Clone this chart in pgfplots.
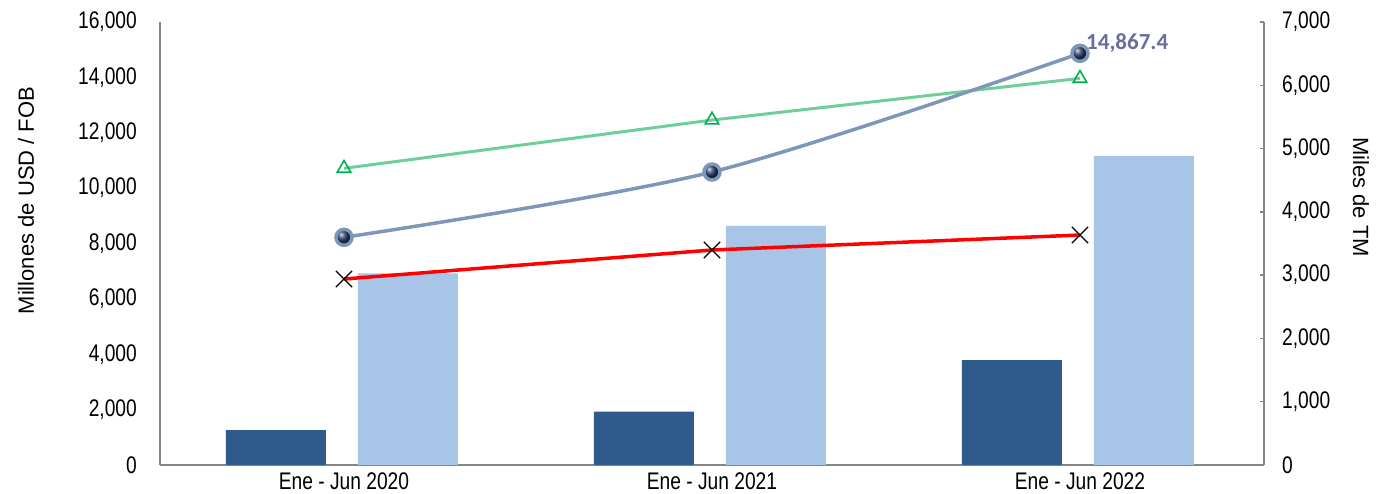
\documentclass[border=0pt]{standalone}
\usepackage{fontspec}
\setmainfont{Liberation Sans}
\newfontfamily\condensed{Liberation Sans}[FakeStretch=0.8]
\newfontfamily\calib{Carlito}
\usepackage{pgfplots}
\pgfplotsset{compat=1.18}
\definecolor{axisgray}{HTML}{868686}
\definecolor{darkbar}{HTML}{2F5A8C}
\definecolor{lightbar}{HTML}{A8C4E6}
\definecolor{blueline}{HTML}{7E97B8}
\definecolor{navyball}{HTML}{1F3864}
\definecolor{greenline}{HTML}{6FCF99}
\definecolor{trigreen}{HTML}{00B050}
\definecolor{labelc}{HTML}{6C6C9E}
\begin{document}
\begin{tikzpicture}
\useasboundingbox (0,0) rectangle (1386bp,494bp);
\begin{axis}[
  at={(160bp,29bp)}, anchor=south west,
  scale only axis, width=1104bp, height=443bp,
  xmin=-0.5, xmax=2.5, ymin=0, ymax=16000,
  axis x line*=bottom, axis y line*=left,
  axis line style={draw=axisgray, line width=1.5bp},
  xtick={0,1,2},
  xticklabels={Ene - Jun 2020, Ene - Jun 2021, Ene - Jun 2022},
  ytick={0,2000,...,16000},
  scaled y ticks=false,
  major tick length=0pt,
  tick label style={font=\condensed\fontsize{24bp}{28bp}\selectfont, inner sep=0pt},
  /pgf/number format/.cd, 1000 sep={,}, assume math mode=true, /pgfplots/.cd,
  yticklabel style={anchor=east, xshift=-23bp},
  xticklabel style={anchor=north, yshift=-8bp},
  ylabel={Millones de USD / FOB},
  every axis y label/.style={at={(axis description cs:-0.1214,0.597)}, rotate=90, anchor=center, font=\fontsize{22bp}{26bp}\selectfont},
]
\addplot[ybar, bar width=100bp, bar shift=-68bp, fill=darkbar, draw=none]
  coordinates {(0,1264) (1,1925) (2,3792)};
\addplot[ybar, bar width=100bp, bar shift=64bp, fill=lightbar, draw=none]
  coordinates {(0,6924) (1,8632) (2,11161)};
\addplot[color=greenline, line width=3bp, mark=triangle, mark size=7.8bp,
  mark options={draw=trigreen, line width=1.6bp}]
  coordinates {(0,10715) (1,12459) (2,13965)};
\addplot[color=red, line width=3.5bp, mark=x, mark size=11.5bp,
  mark options={draw=black, line width=1.3bp}]
  coordinates {(0,6717) (1,7765) (2,8306)};
\addplot[color=blueline, line width=3.5bp, smooth, mark=ball, mark size=8bp,
  mark options={draw=none, ball color=navyball}]
  coordinates {(0,8223) (1,10582) (2,14867.4)};
\node[anchor=base west, text=labelc, font=\calib\bfseries\fontsize{23bp}{27bp}\selectfont, inner sep=0pt, xshift=6bp, yshift=4bp] at (axis cs:2,14867.4) {14,867.4};
\end{axis}
\begin{axis}[
  at={(160bp,29bp)}, anchor=south west,
  scale only axis, width=1104bp, height=443bp,
  xmin=-0.5, xmax=2.5, ymin=0, ymax=7000,
  axis x line=none, axis y line*=right,
  axis line style={draw=axisgray, line width=1.5bp},
  ytick={0,1000,...,7000},
  tick align=inside, major tick length=4bp,
  tick style={draw=axisgray, line width=1.5bp},
  tick label style={font=\condensed\fontsize{24bp}{28bp}\selectfont, inner sep=0pt},
  /pgf/number format/.cd, 1000 sep={,}, assume math mode=true, /pgfplots/.cd,
  yticklabel style={anchor=west, xshift=18bp},
  ylabel={Miles de TM},
  every axis y label/.style={at={(axis description cs:1.0879,0.605)}, rotate=-90, anchor=center, font=\fontsize{22bp}{26bp}\selectfont},
]
\addplot[draw=none] coordinates {(0,0)};
\end{axis}
\end{tikzpicture}
\end{document}
